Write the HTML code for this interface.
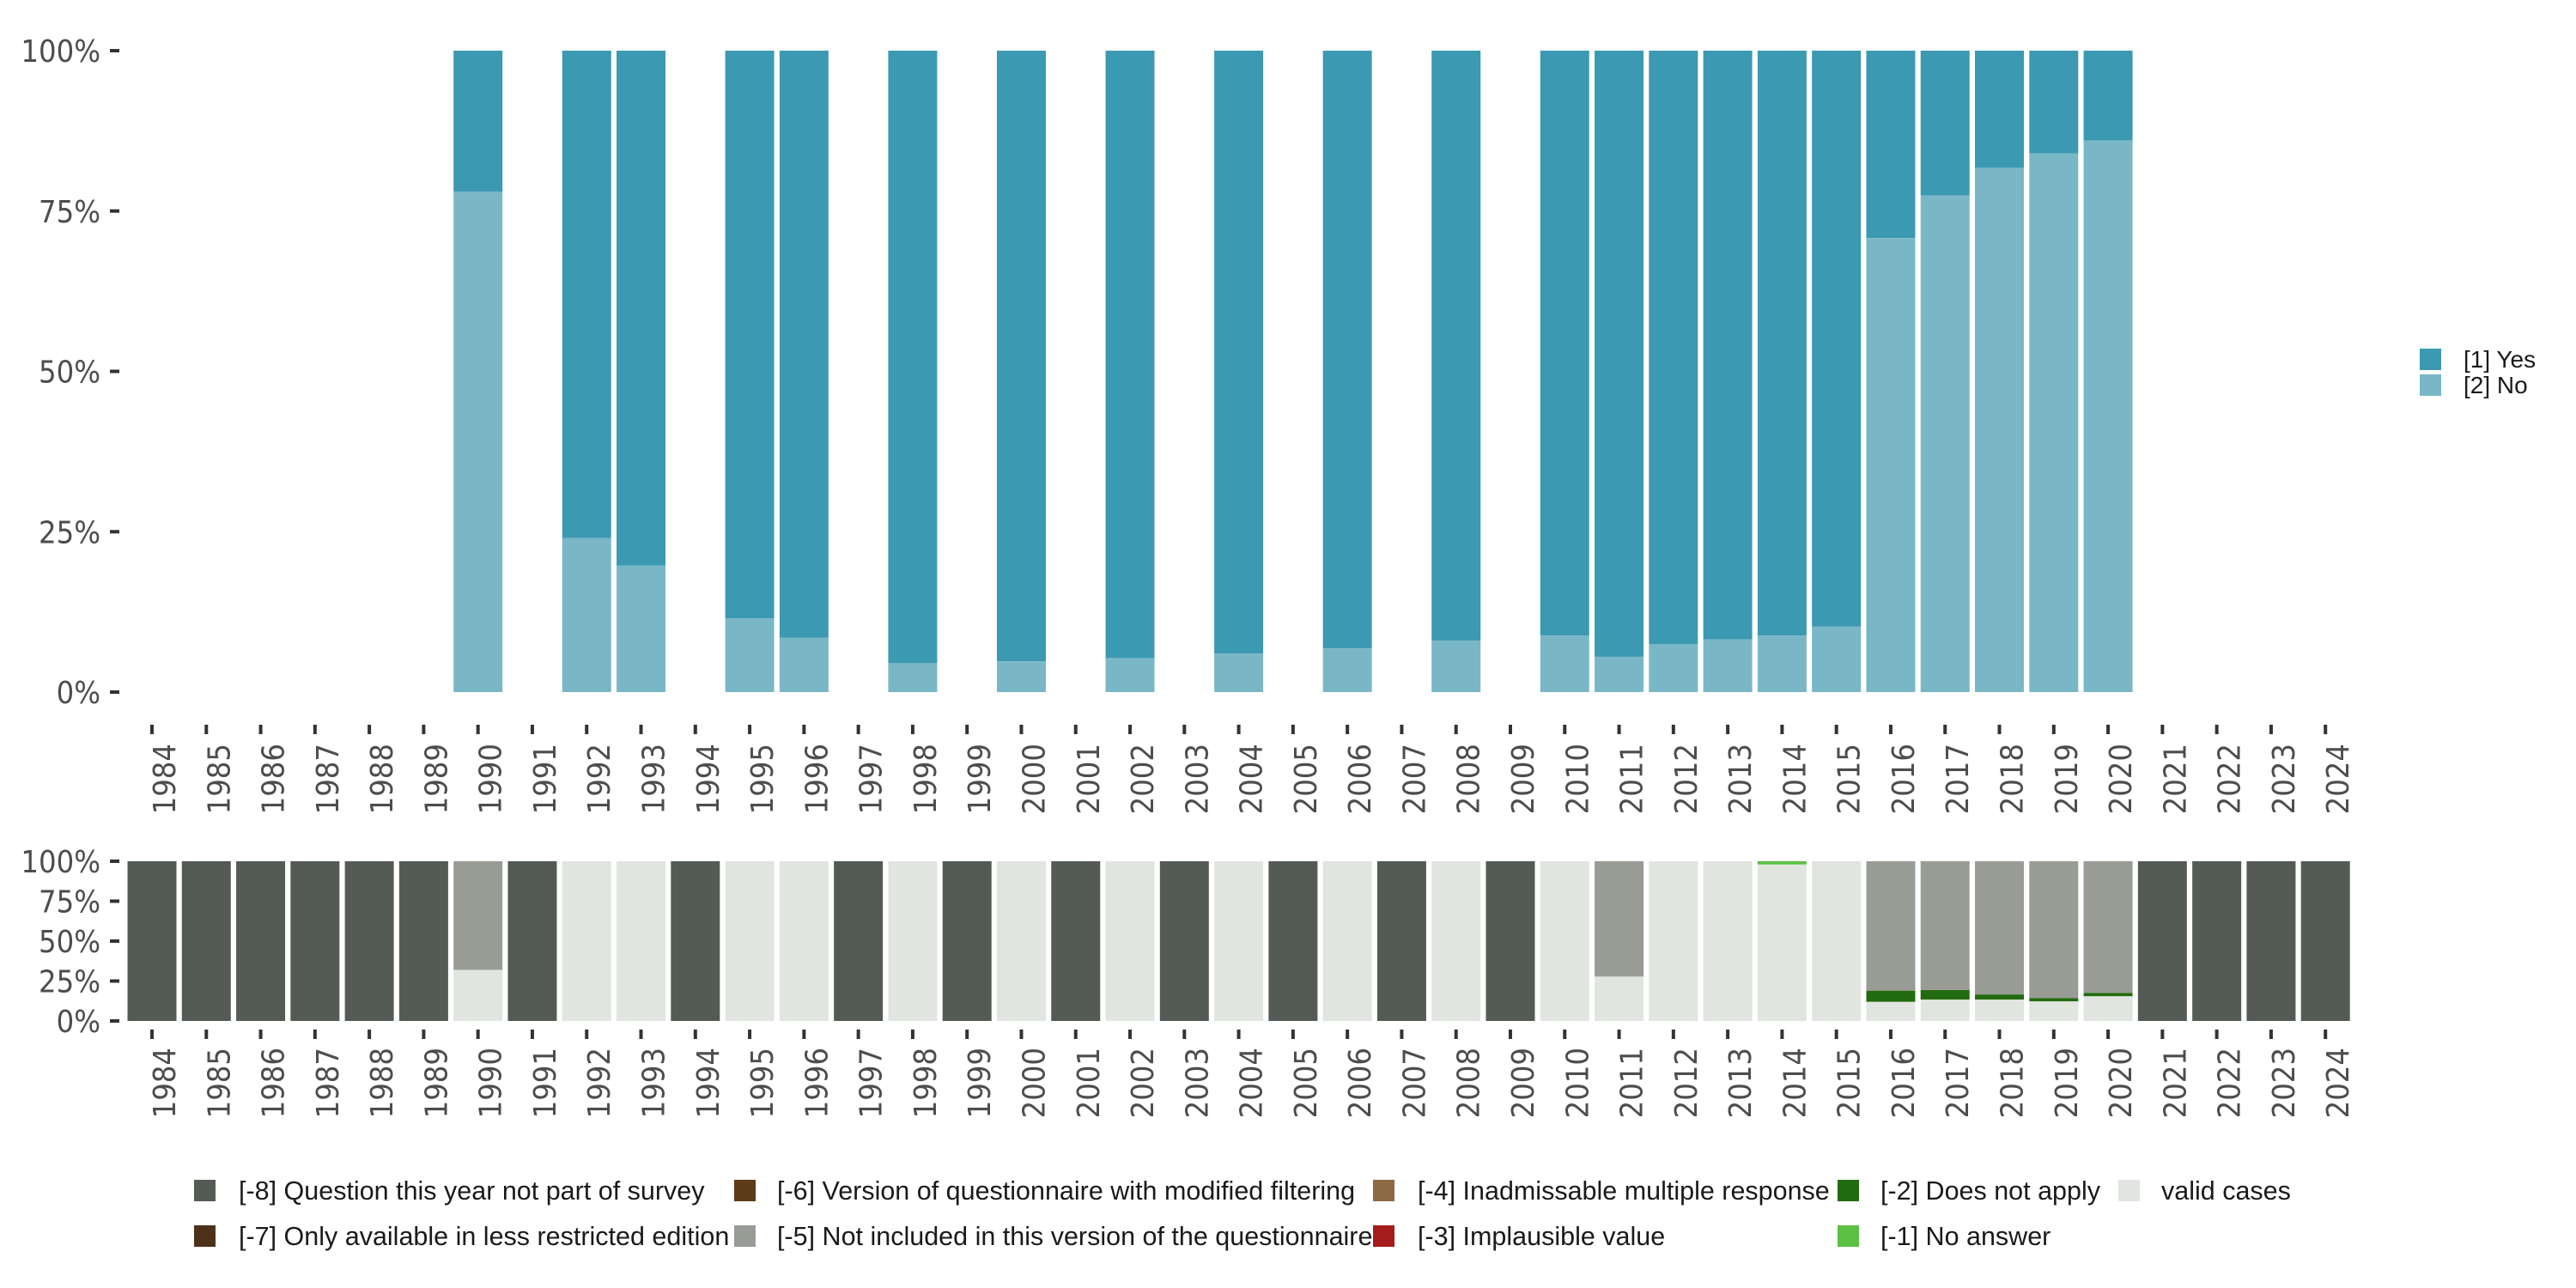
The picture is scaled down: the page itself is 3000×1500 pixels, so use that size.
<!DOCTYPE html>
<html><head><meta charset="utf-8"><style>
html,body{margin:0;padding:0;background:#fff;}
svg{display:block;}
.ax{font-family:"Liberation Sans Narrow","DejaVu Sans Condensed","Liberation Sans",sans-serif;fill:#4d4d4d;font-size:36px;}
.lg{font-family:"Liberation Sans","DejaVu Sans",sans-serif;fill:#1a1a1a;font-size:28px;}
.lgb{font-family:"Liberation Sans","DejaVu Sans",sans-serif;fill:#1a1a1a;font-size:30.5px;}
</style></head><body>
<svg id="chart" width="3000" height="1500" viewBox="0 0 3000 1500" xmlns="http://www.w3.org/2000/svg">
<g id="topPanel"></g>
<g id="botPanel"></g>
<g id="legend-top">
<rect x="2818" y="406" width="25" height="25" fill="#3c99b2"/>
<text class="lg" x="2869" y="428">[1] Yes</text>
<rect x="2818" y="436" width="25" height="25" fill="#7ab7c6"/>
<text class="lg" x="2869" y="458">[2] No</text>
</g>
<g id="legend-bottom"></g>
</svg>
<script>
const years = [];
for (let y = 1984; y <= 2024; y++) years.push(y);
// top panel: share of "[2] No" (%) per year, missing = no data
const noShare = {1990:78,1992:24,1993:19.7,1995:11.5,1996:8.5,1998:4.5,2000:4.8,2002:5.3,2004:6,2006:6.8,2008:8,2010:8.8,2011:5.5,2012:7.5,2013:8.2,2014:8.8,2015:10.2,2016:70.8,2017:77.4,2018:81.7,2019:84,2020:86};
const yTickLabels = ["0%","25%","50%","75%","100%"];
const yTickValues = [0,25,50,75,100];
// bottom panel: missing-category shares per year
const fullMissing8 = [1984,1985,1986,1987,1988,1989,1991,1994,1997,1999,2001,2003,2005,2007,2009,2021,2022,2023,2024];
const validShare = {1990:32,2011:27.8,2014:98,2016:12,2017:13.4,2018:13.4,2019:12.3,2020:15.5};
const notApplyShare = {2016:7,2017:6,2018:3.2,2019:2.1,2020:2.1};
const noAnswerShare = {2014:2};
const legendLabels = ["[-8] Question this year not part of survey","[-7] Only available in less restricted edition","[-6] Version of questionnaire with modified filtering","[-5] Not included in this version of the questionnaire","[-4] Inadmissable multiple response","[-3] Implausible value","[-2] Does not apply","[-1] No answer","valid cases"];

const NS = "http://www.w3.org/2000/svg";
const C = {yes:"#3c99b2",no:"#7ab7c6",m8:"#545b55",m7:"#4d3219",m6:"#5c3a1a",m5:"#989c95",m4:"#8c6a44",m3:"#a61c1c",m2:"#236b10",m1:"#5bc043",valid:"#e1e5e0"};
const legendColors = [C.m8,C.m7,C.m6,C.m5,C.m4,C.m3,C.m2,C.m1,C.valid];
const legendPos = [[226,278,1374],[226,278,1427],[855,905,1374],[855,905,1427],[1599,1651,1374],[1599,1651,1427],[2140,2190,1374],[2140,2190,1427],[2467,2517,1374]];
const x0 = 177, pitch = 63.28, bw = 57;
const xs = y => x0 + (y - 1984) * pitch;
function mk(tag, attrs, parent){const e=document.createElementNS(NS,tag);for(const k in attrs)e.setAttribute(k,attrs[k]);parent.appendChild(e);return e;}

function axis(g, yTop, yBot, tickY1, tickY2, labY, prefix){
  const ys = v => yBot - (yBot - yTop) * v / 100;
  yTickValues.forEach((v,i)=>{
    const t = mk("rect",{x:128,y:ys(v)-2,width:11,height:4,fill:"#333"},g);
    
    
    const tx = mk("text",{x:117,y:ys(v)+13,"text-anchor":"end",class:"ax"},g);
    
    
    tx.textContent = yTickLabels[i];
  });
  years.forEach(y=>{
    const cx = xs(y);
    const t = mk("rect",{x:cx-2,y:tickY1,width:4,height:tickY2-tickY1,fill:"#333"},g);
    
    
    const tx = mk("text",{x:0,y:0,"text-anchor":"end",class:"ax",transform:`translate(${cx+27},${labY}) rotate(-90)`},g);
    
    
    tx.textContent = y;
  });
  return ys;
}

const topG = document.getElementById("topPanel");
const ysT = axis(topG, 59, 806, 844, 855, 866, "top");
years.forEach(y=>{
  const v = noShare[y];
  if (v === undefined || v === null) return;
  const x = xs(y) - bw/2;
  const rY = mk("rect",{x:x,y:ysT(100),width:bw,height:ysT(v)-ysT(100),fill:C.yes},topG);
  
  
  const rN = mk("rect",{x:x,y:ysT(v),width:bw,height:ysT(0)-ysT(v),fill:C.no},topG);
  
  
});

const botG = document.getElementById("botPanel");
const ysB = axis(botG, 1003, 1189, 1199, 1210, 1220, "bottom");
years.forEach(y=>{
  let segs;
  if (fullMissing8.includes(y)) segs = [["m8",100]];
  else {
    const v = validShare[y] !== undefined ? validShare[y] : 100;
    const d2 = notApplyShare[y] || 0, d1 = noAnswerShare[y] || 0;
    segs = [["valid",v],["m2",d2],["m5",Math.max(0,100-v-d2-d1)],["m1",d1]];
  }
  let acc = 0;
  const x = xs(y) - bw/2;
  segs.forEach(([k,v])=>{
    if (v <= 0) return;
    const r = mk("rect",{x:x,y:ysB(acc+v),width:bw,height:ysB(acc)-ysB(acc+v),fill:C[k]},botG);
    
    
    acc += v;
  });
});

const lb = document.getElementById("legend-bottom");
legendLabels.forEach((l,i)=>{
  const [kx,tx,ky] = legendPos[i];
  const r = mk("rect",{x:kx,y:ky,width:25,height:25,fill:legendColors[i]},lb);
  
  
  const t = mk("text",{x:tx,y:ky+23,class:"lgb"},lb);
  
  
  t.textContent = l;
});
</script>
</body></html>
